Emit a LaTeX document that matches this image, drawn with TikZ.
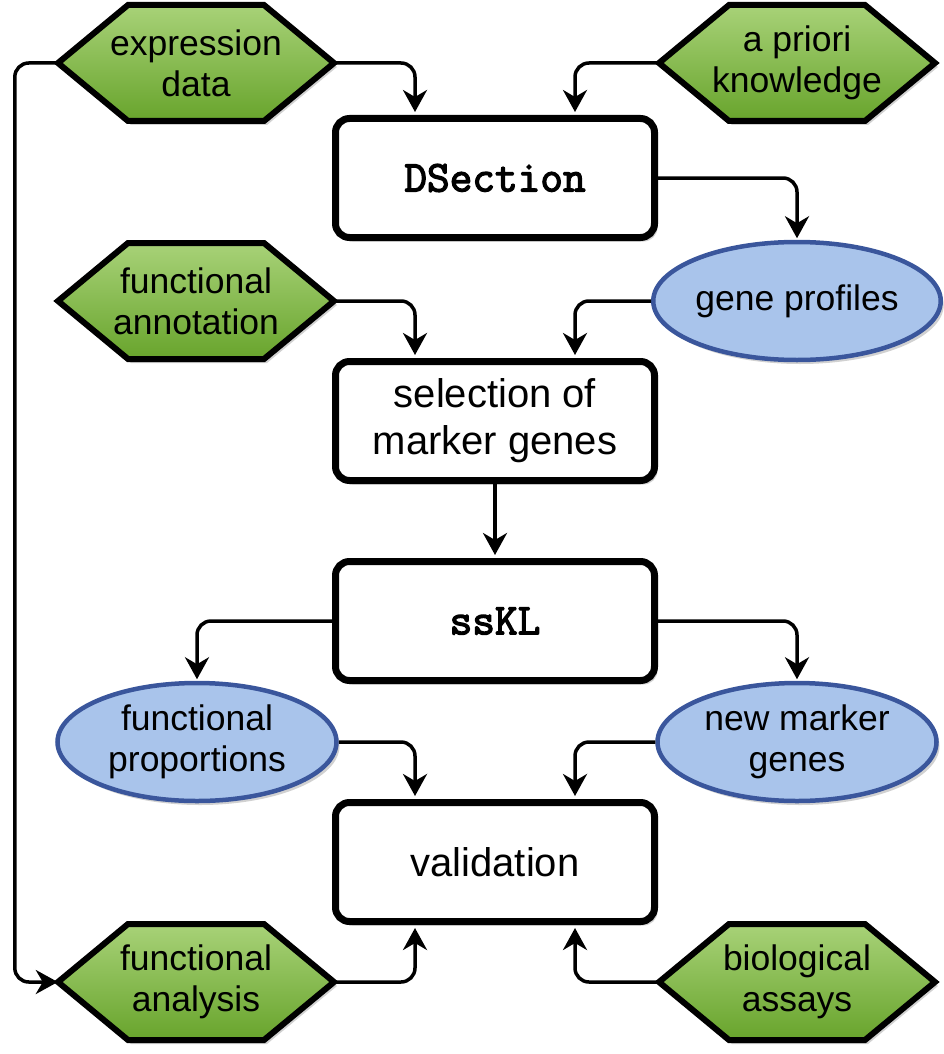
\documentclass[tikz,border=0pt]{standalone}
\usepackage{fontspec}
\setmainfont{Liberation Sans}
\newfontfamily\codefont[AutoFakeBold=3]{Latin Modern Mono}
\usetikzlibrary{arrows.meta,shapes.geometric,shadows,calc}
\definecolor{gtop}{RGB}{168,210,120}
\definecolor{gbot}{RGB}{104,164,44}
\definecolor{efill}{RGB}{169,196,235}
\definecolor{estroke}{RGB}{58,86,156}
\tikzset{
 shadowed/.style={drop shadow={shadow xshift=3pt,shadow yshift=-4pt,opacity=0.3,fill=black!60}},
 hexshape/.style={draw=black,line width=6pt,line join=miter,top color=gtop,bottom color=gbot,shadowed},
 hextext/.style={minimum width=276pt,minimum height=116pt,inner sep=0pt,align=center,font=\fontsize{35.5}{41}\selectfont},
 procbox/.style={draw=black,line width=7pt,fill=white,rounded corners=14pt,minimum width=319pt,minimum height=119pt,align=center,inner sep=0pt,font=\fontsize{40}{47}\selectfont,shadowed},
 monobox/.style={procbox,font=\fontsize{44}{50}\selectfont\codefont\bfseries},
 dataell/.style={ellipse,draw=estroke,line width=4.5pt,fill=efill,minimum width=279pt,minimum height=118pt,inner sep=0pt,align=center,font=\fontsize{35.5}{41}\selectfont,shadowed},
 conn/.style={line width=3.5pt,rounded corners=14pt,-{Stealth[length=22pt,width=24pt,inset=7pt]}},
 tobox/.style={conn,shorten >=3pt},
 toell/.style={conn,shorten >=1.5pt},
}
\newcommand{\hexa}[3]{%
 \path[hexshape] ($(#2)+(-138,0)$) -- ++(70,-58) -- ++(136,0) -- ++(70,58) -- ++(-70,58) -- ++(-136,0) -- cycle;
 \node[hextext] (#1) at (#2) {#3};}
\begin{document}
\begin{tikzpicture}[x=1pt,y=-1pt]
\useasboundingbox (0,0) rectangle (944,1054);
\hexa{ed}{196,63}{expression\\data}
\hexa{ap}{797,63}{a priori\\knowledge}
\hexa{fa}{196,301}{functional\\annotation}
\hexa{fan}{196,982}{functional\\analysis}
\hexa{ba}{797,982}{biological\\assays}
\node[monobox] (ds) at (495,178) {DSection};
\node[procbox] (sel) at (495,421) {selection of\\marker genes};
\node[monobox] (ss) at (495,621) {ssKL};
\node[procbox] (val) at (495,862) {validation};
\node[dataell] (gp) at (797,301) {gene profiles};
\node[dataell] (fp) at (197,742) {functional\\proportions};
\node[dataell] (nm) at (797,742) {new marker\\genes};
% connectors
\draw[tobox] (ed.east) -| ($(ds.north)+(-80,0)$);
\draw[tobox] (ap.west) -| ($(ds.north)+(80,0)$);
\draw[toell] (ds.east) -| (gp.north);
\draw[tobox] (fa.east) -| ($(sel.north)+(-80,0)$);
\draw[tobox] (gp.west) -| ($(sel.north)+(80,0)$);
\draw[tobox] (sel.south) -- (ss.north);
\draw[toell] (ss.west) -| (fp.north);
\draw[toell] (ss.east) -| (nm.north);
\draw[tobox] (fp.east) -| ($(val.north)+(-80,0)$);
\draw[tobox] (nm.west) -| ($(val.north)+(80,0)$);
\draw[tobox] (fan.east) -| ($(val.south)+(-80,0)$);
\draw[tobox] (ba.west) -| ($(val.south)+(80,0)$);
\draw[conn] (ed.west) -| ($(fan.west)+(-43,0)$) -- (fan.west);
\end{tikzpicture}
\end{document}
